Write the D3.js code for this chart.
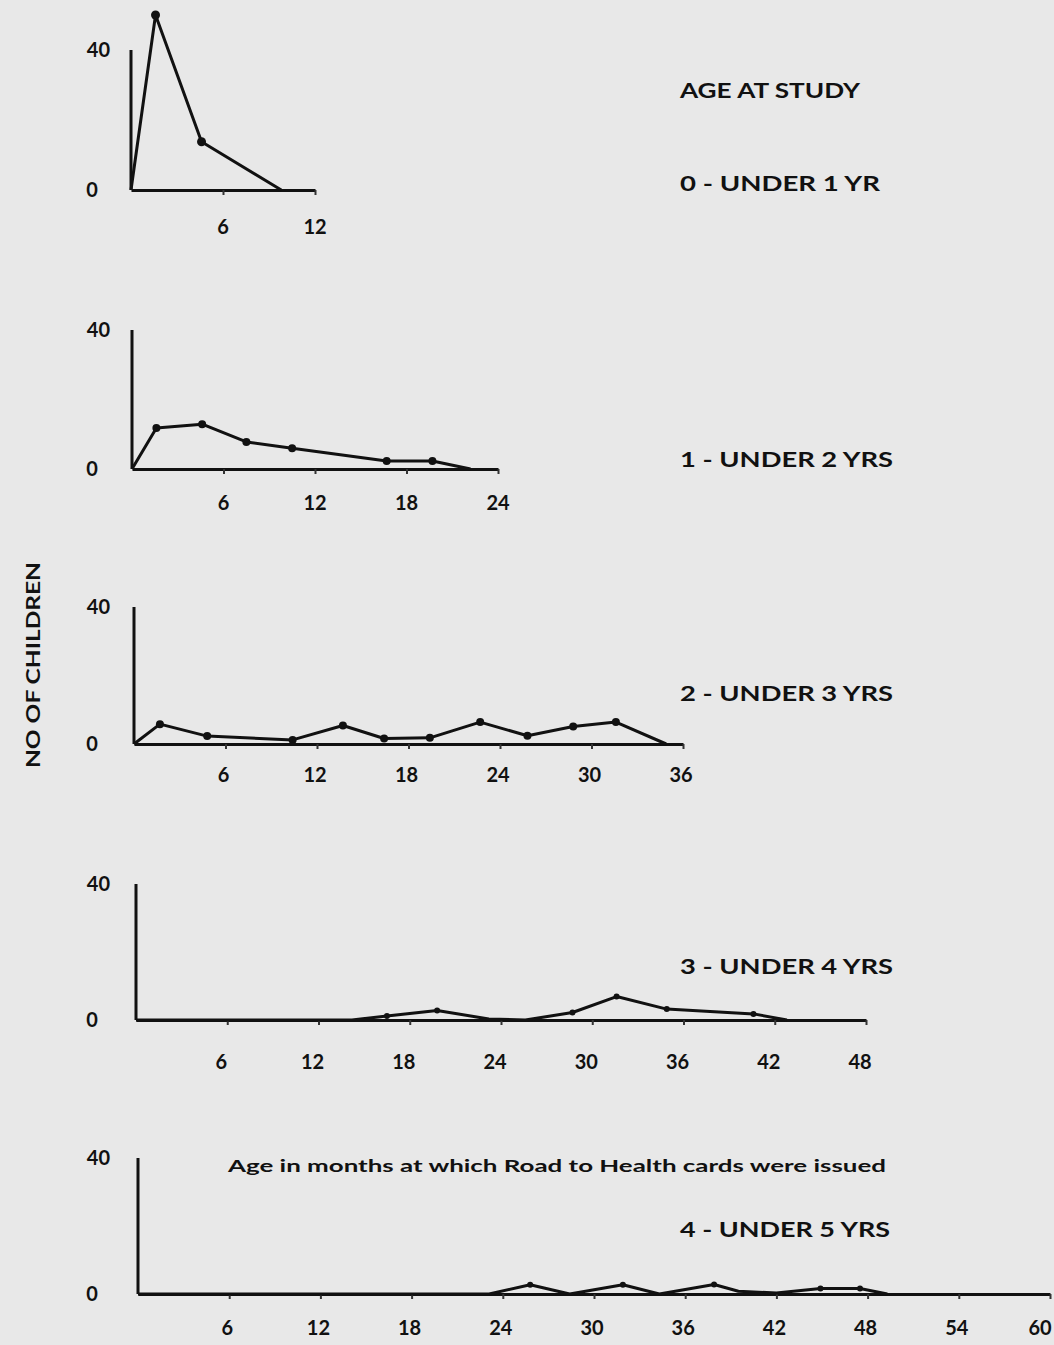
<!DOCTYPE html>
<html>
<head>
<meta charset="utf-8">
<script src="https://cdn.jsdelivr.net/npm/d3@7"></script>
<style>
  html, body { margin: 0; padding: 0; background: #e8e8e8; }
  svg { display: block; }
  text { font-family: Lato, "Open Sans", sans-serif; font-weight: 700; fill: #111; }
</style>
</head>
<body>
<svg id="chart" width="1054" height="1345"></svg>
<script>
// ---- Data ----
const yTickLabels = [0, 40];
const panelTitles = ["0 - UNDER 1 YR", "1 - UNDER 2 YRS", "2 - UNDER 3 YRS", "3 - UNDER 4 YRS", "4 - UNDER 5 YRS"];
const panelMaxMonths = [12, 24, 36, 48, 60];

const months0 = [0, 1.6, 4.6, 9.8];
const counts0 = [0, 50, 13.8, 0];

const months1 = [0, 1.6, 4.6, 7.5, 10.5, 16.7, 19.7, 22.2];
const counts1 = [0, 11.8, 12.9, 7.8, 6.0, 2.3, 2.3, 0];

const months2 = [0, 1.7, 4.8, 10.4, 13.7, 16.4, 19.4, 22.7, 25.8, 28.8, 31.6, 34.9];
const counts2 = [0, 5.8, 2.3, 1.2, 5.4, 1.6, 1.8, 6.4, 2.4, 5.1, 6.4, 0];

const months3 = [0, 14.2, 16.5, 19.8, 23.2, 25.6, 28.7, 31.6, 34.9, 40.6, 42.8];
const counts3 = [0, 0, 1.2, 2.8, 0.3, 0, 2.2, 6.9, 3.2, 1.8, 0];

const months4 = [0, 23.1, 25.8, 28.4, 31.9, 34.3, 37.9, 39.5, 42.0, 44.9, 47.5, 49.3];
const counts4 = [0, 0, 2.7, 0, 2.7, 0, 2.8, 0.8, 0.3, 1.6, 1.6, 0];

const allMonths = [months0, months1, months2, months3, months4];
const allCounts = [counts0, counts1, counts2, counts3, counts4];

const headerText = "AGE AT STUDY";
const xAxisTitle = "Age in months at which Road to Health cards were issued";
const yAxisTitle = "NO OF CHILDREN";

// ---- Layout ----
const W = 1054;
const layout = [
  { x0: 131, xEnd: 315, y0: 190, y40: 50,  lblY: 234, titleY: 191, titleW: 200, r: 4.5, lblDx: 0 },
  { x0: 132, xEnd: 498, y0: 469, y40: 330, lblY: 510, titleY: 467, titleW: 213, r: 4, lblDx: 0 },
  { x0: 134, xEnd: 683, y0: 744, y40: 607, lblY: 782, titleY: 701, titleW: 213, r: 4, lblDx: -2 },
  { x0: 136, xEnd: 866, y0: 1020, y40: 884, lblY: 1069, titleY: 974, titleW: 213, r: 3, lblDx: -6 },
  { x0: 138, xEnd: 1050, y0: 1294, y40: 1158, lblY: 1335, titleY: 1237, titleW: 210, r: 3, lblDx: -2 }
];

const svg = d3.select("#chart");

layout.forEach((L, i) => {
  const maxM = panelMaxMonths[i];
  const x = d3.scaleLinear().domain([0, maxM]).range([L.x0, L.xEnd]);
  const y = d3.scaleLinear().domain([0, 40]).range([L.y0, L.y40]);
  const g = svg.append("g");

  // y axis line
  g.append("line")
    .attr("x1", x(0)).attr("x2", x(0))
    .attr("y1", y(0)).attr("y2", y(40))
    .attr("stroke", "#111").attr("stroke-width", 3);

  // x axis
  const ticks = d3.range(6, maxM + 1, 6);
  const ax = d3.axisBottom(x).tickValues(ticks).tickSize(5).tickSizeOuter(0).tickFormat("");
  const axg = g.append("g").attr("transform", `translate(0,${y(0)})`).call(ax);
  axg.select(".domain").attr("stroke", "#111").attr("stroke-width", 3);
  axg.selectAll(".tick line").attr("stroke", "#333").attr("stroke-width", 2);

  // x tick labels
  g.selectAll("text.xl").data(ticks).join("text")
    .attr("class", "xl")
    .attr("x", d => x(d) + L.lblDx)
    .attr("y", L.lblY)
    .attr("text-anchor", "middle")
    .attr("font-size", 20)
    .text(d => d)
    .each(function () {
      const b = this.getBBox();
      if (b.x + b.width > W - 2) {
        d3.select(this).attr("x", +d3.select(this).attr("x") - (b.x + b.width - (W - 2)));
      }
    });

  // y tick labels
  g.selectAll("text.yl").data(yTickLabels).join("text")
    .attr("class", "yl")
    .attr("x", d => d === 0 ? 92 : 110)
    .attr("y", d => y(d) + 7)
    .attr("text-anchor", d => d === 0 ? "middle" : "end")
    .attr("font-size", 20)
    .text(d => d);

  // data line
  const pts = allMonths[i].map((m, k) => ({ m, c: allCounts[i][k] }));
  const line = d3.line().x(d => x(d.m)).y(d => y(d.c));
  g.append("path").datum(pts)
    .attr("d", line)
    .attr("fill", "none")
    .attr("stroke", "#111")
    .attr("stroke-width", 3)
    .attr("stroke-linejoin", "round");

  g.selectAll("circle").data(pts.filter(d => d.c > 1)).join("circle")
    .attr("cx", d => x(d.m)).attr("cy", d => y(d.c))
    .attr("r", L.r).attr("fill", "#111");

  // panel title
  svg.append("text")
    .attr("x", 680).attr("y", L.titleY)
    .attr("font-size", 20)
    .attr("textLength", L.titleW)
    .attr("lengthAdjust", "spacingAndGlyphs")
    .text(panelTitles[i]);
});

svg.append("text")
  .attr("x", 680).attr("y", 98)
  .attr("font-size", 20)
  .attr("textLength", 180)
  .attr("lengthAdjust", "spacingAndGlyphs")
  .text(headerText);

svg.append("text")
  .attr("x", 228).attr("y", 1172)
  .attr("font-size", 17)
  .attr("textLength", 658)
  .attr("lengthAdjust", "spacingAndGlyphs")
  .text(xAxisTitle);

svg.append("text")
  .attr("transform", "translate(40,665) rotate(-90)")
  .attr("text-anchor", "middle")
  .attr("font-size", 19)
  .attr("font-weight", 600)
  .attr("textLength", 206)
  .attr("lengthAdjust", "spacingAndGlyphs")
  .text(yAxisTitle);
</script>
</body>
</html>
